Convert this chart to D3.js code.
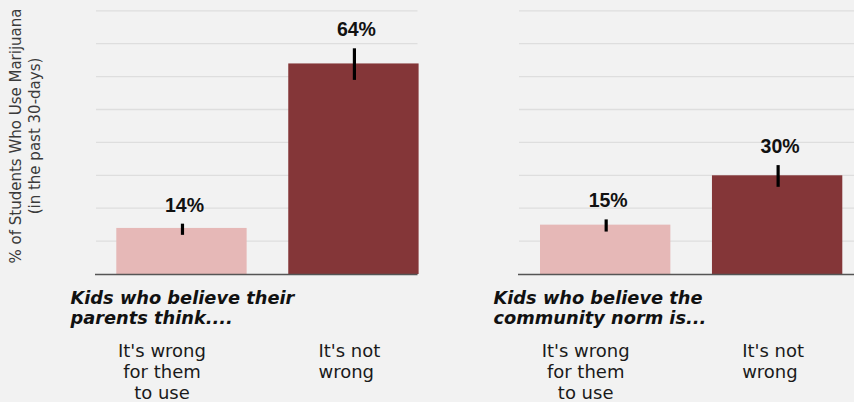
<!DOCTYPE html>
<html>
<head>
<meta charset="utf-8">
<script src="https://cdn.jsdelivr.net/npm/d3@7"></script>
<style>
  html, body { margin: 0; padding: 0; background: #f2f2f2; }
  svg { display: block; }
</style>
</head>
<body>
<div id="chart"></div>
<script>
// ---------- data ----------
const categories = ["wrong", "notWrong"];
const categoryLabels = [["It's wrong", "for them", "to use"], ["It's not", "wrong"]];
const panelSubtitles = [["Kids who believe their", "parents think...."],
                        ["Kids who believe the", "community norm is..."]];
const parentsValues = [14, 64];
const parentsErrLow = [11.9, 59.0];
const parentsErrHigh = [15.3, 68.6];
const communityValues = [15, 30];
const communityErrLow = [12.9, 26.5];
const communityErrHigh = [16.6, 33.1];
const yTicks = [10, 20, 30, 40, 50, 60, 70, 80];
const yTitleLines = ["% of Students Who Use Marijuana", "(in the past 30-days)"];

// ---------- layout ----------
const W = 854, H = 402;
const baseY = 274, topY = 10.8;
const colors = ["#e6b8b7", "#843638"];
const panels = [
  { values: parentsValues, lo: parentsErrLow, hi: parentsErrHigh, sub: panelSubtitles[0],
    gridX0: 96, gridX1: 417.5, barX0: 116.3 },
  { values: communityValues, lo: communityErrLow, hi: communityErrHigh, sub: panelSubtitles[1],
    gridX0: 519, gridX1: 854, barX0: 540 }
];

const svg = d3.select("#chart").append("svg").attr("width", W).attr("height", H);
svg.append("rect").attr("width", W).attr("height", H).attr("fill", "#f2f2f2");

const y = d3.scaleLinear().domain([0, 80]).range([baseY, topY]);

// y title
const yt = svg.append("g").attr("transform", "translate(0,136)");
yTitleLines.forEach((t, i) => {
  yt.append("text")
    .attr("transform", `translate(${21 + i * 18.5},0) rotate(-90)`)
    .attr("text-anchor", "middle")
    .attr("font-family", "'DejaVu Sans', Verdana, sans-serif")
    .attr("font-size", 15)
    .attr("fill", "#3a3a3a")
    .text(t);
});

panels.forEach((p, pi) => {
  const g = svg.append("g");
  const x = d3.scaleBand().domain(categories)
    .range([p.barX0, p.barX0 + 302.3]).paddingInner(0.242).paddingOuter(0);

  // gridlines
  g.selectAll("line.grid").data(yTicks).join("line")
    .attr("class", "grid")
    .attr("x1", p.gridX0).attr("x2", p.gridX1)
    .attr("y1", d => y(d)).attr("y2", d => y(d))
    .attr("stroke", "#dedede").attr("stroke-width", 1.3);

  // bars
  g.selectAll("rect.bar").data(categories).join("rect")
    .attr("class", "bar")
    .attr("x", d => x(d)).attr("width", x.bandwidth())
    .attr("y", (d, i) => y(p.values[i]))
    .attr("height", (d, i) => baseY - y(p.values[i]))
    .attr("fill", (d, i) => colors[i]);

  // axis baseline
  g.append("line")
    .attr("x1", p.gridX0 - 1).attr("x2", p.gridX1)
    .attr("y1", baseY + 0.5).attr("y2", baseY + 0.5)
    .attr("stroke", "#555").attr("stroke-width", 1.5);

  // error bars
  g.selectAll("line.err").data(categories).join("line")
    .attr("class", "err")
    .attr("x1", d => x(d) + x.bandwidth() / 2 + 1)
    .attr("x2", d => x(d) + x.bandwidth() / 2 + 1)
    .attr("y1", (d, i) => y(p.hi[i])).attr("y2", (d, i) => y(p.lo[i]))
    .attr("stroke", "#000").attr("stroke-width", 3.2);

  // value labels
  g.selectAll("text.val").data(categories).join("text")
    .attr("class", "val")
    .attr("x", d => x(d) + x.bandwidth() / 2 + 3)
    .attr("y", (d, i) => y(p.hi[i]) - 12)
    .attr("text-anchor", "middle")
    .attr("font-family", "'Liberation Sans', Arial, sans-serif")
    .attr("font-weight", "bold")
    .attr("font-size", 19.5)
    .attr("fill", "#111")
    .text((d, i) => p.values[i] + "%");

  // subtitle
  p.sub.forEach((t, i) => {
    g.append("text")
      .attr("x", p.gridX0 - 25.5)
      .attr("y", 303.5 + i * 20)
      .attr("font-family", "'DejaVu Sans', Verdana, sans-serif")
      .attr("font-weight", "bold")
      .attr("font-style", "italic")
      .attr("font-size", 17.8)
      .attr("fill", "#111")
      .text(t);
  });

  // category labels
  categories.forEach((c, ci) => {
    const cx = x(c) + x.bandwidth() / 2;
    categoryLabels[ci].forEach((t, li) => {
      g.append("text")
        .attr("x", ci === 0 ? cx - 19.5 : cx - 35)
        .attr("y", 356.5 + li * 21)
        .attr("text-anchor", ci === 0 ? "middle" : "start")
        .attr("font-family", "'DejaVu Sans', Verdana, sans-serif")
        .attr("font-size", 18)
        .attr("fill", "#1a1a1a")
        .text(t);
    });
  });
});
</script>
</body>
</html>
